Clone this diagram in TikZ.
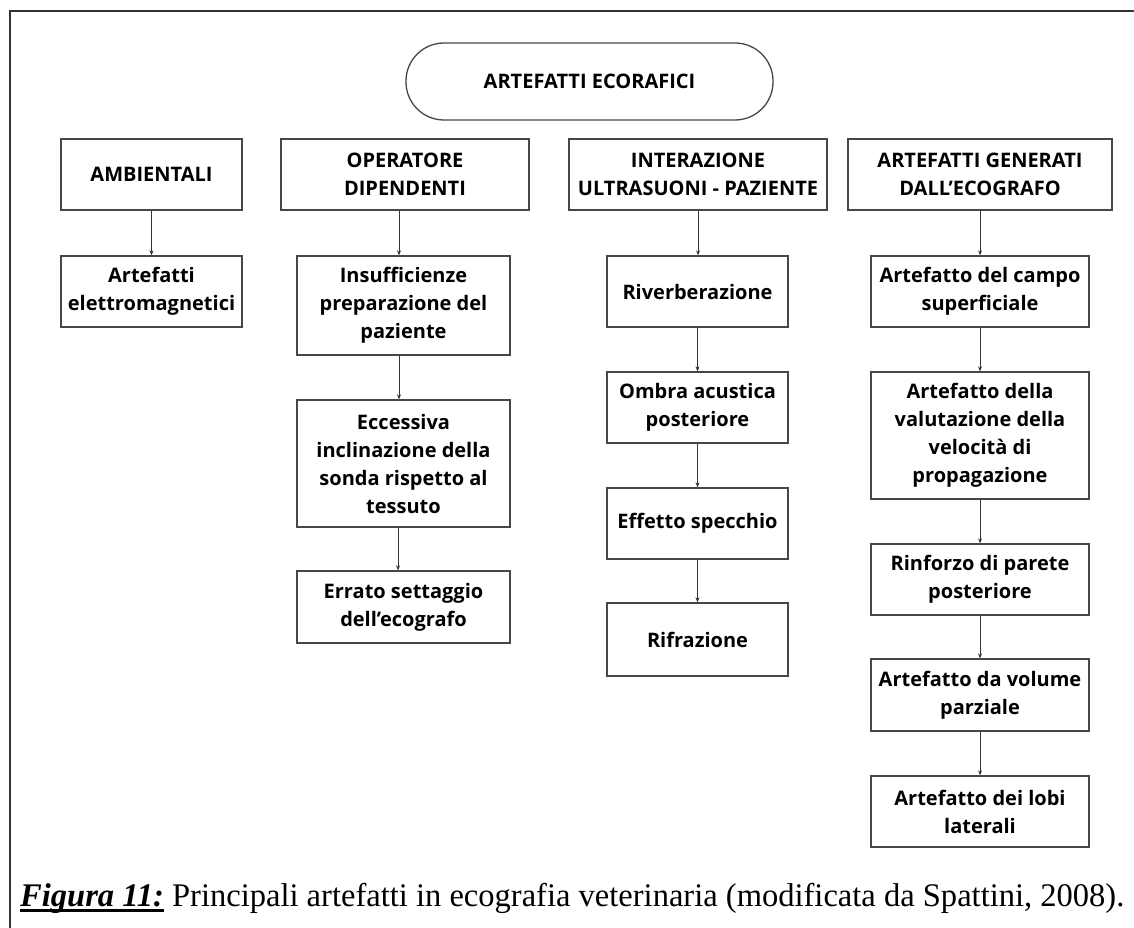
\documentclass[tikz,border=0pt]{standalone}
\usepackage{fontspec}
\usepackage{graphicx}
\setmainfont{Liberation Serif}
\newfontfamily\boxfont{Open Sans}
\usetikzlibrary{arrows.meta}
\newcommand\thickul[1]{\setbox0\hbox{#1}\rlap{\rule[-5.5pt]{\wd0}{2.6pt}}\box0\relax}
\tikzset{
  every picture/.style={x=1pt,y=-1pt},
  boxnode/.style={draw=black!72, line width=1.3pt, inner sep=0pt, align=center,
    font=\boxfont\bfseries\fontsize{20}{28}\selectfont, text=black},
  conn/.style={draw=black!80, line width=1pt, -{Stealth[length=5pt,width=4pt]}},
}
\begin{document}
\begin{tikzpicture}
\useasboundingbox (0,0) rectangle (1134,928);
\fill[white] (0,0) rectangle (1134,928);
\draw[black!80, line width=1.5pt] (10,1000) -- (10,11) -- (1200,11);

\node[boxnode, rounded corners=38pt, minimum width=367pt, minimum height=77pt] (root) at (589.5,81.5) {ARTEFATTI ECORAFICI};

\node[boxnode, minimum width=181pt, minimum height=71pt] (amb) at (151.5,174.5) {AMBIENTALI};
\node[boxnode, minimum width=248pt, minimum height=71pt] (op) at (405,174.5) {OPERATORE\\DIPENDENTI};
\node[boxnode, minimum width=258pt, minimum height=71pt] (int) at (698,174.5) {INTERAZIONE\\ULTRASUONI - PAZIENTE};
\node[boxnode, minimum width=264pt, minimum height=71pt] (gen) at (980,174.5) {ARTEFATTI GENERATI\\DALL’ECOGRAFO};

\node[boxnode, minimum width=181pt, minimum height=71pt] (elet) at (151.5,291.5) {Artefatti\\elettromagnetici};

\node[boxnode, minimum width=213pt, minimum height=99pt] (ins) at (403.5,305.5) {Insufficienze\\preparazione del\\paziente};
\node[boxnode, minimum width=213pt, minimum height=127pt] (ecc) at (403.5,463.5) {Eccessiva\\inclinazione della\\sonda rispetto al\\tessuto};
\node[boxnode, minimum width=213pt, minimum height=72pt] (err) at (403.5,607) {Errato settaggio\\dell’ecografo};

\node[boxnode, minimum width=181pt, minimum height=71pt] (riv) at (697.5,291.5) {Riverberazione};
\node[boxnode, minimum width=181pt, minimum height=71pt] (omb) at (697.5,407.5) {Ombra acustica\\posteriore};
\node[boxnode, minimum width=181pt, minimum height=71pt] (eff) at (697.5,523.5) {Effetto specchio};
\node[boxnode, minimum width=181pt, minimum height=73pt] (rif) at (697.5,639.5) {Rifrazione};

\node[boxnode, minimum width=218pt, minimum height=71pt] (campo) at (980,291.5) {Artefatto del campo\\superficiale};
\node[boxnode, minimum width=218pt, minimum height=127pt] (val) at (980,435.5) {Artefatto della\\valutazione della\\velocità di\\propagazione};
\node[boxnode, minimum width=218pt, minimum height=71pt] (rin) at (980,579.5) {Rinforzo di parete\\posteriore};
\node[boxnode, minimum width=218pt, minimum height=72pt] (vol) at (980,695) {Artefatto da volume\\parziale};
\node[boxnode, minimum width=218pt, minimum height=71pt] (lobi) at (980,811.5) {Artefatto dei lobi\\laterali};

\draw[conn] (amb.south) -- (elet.north);
\draw[conn] (op.south -| 399,0) -- (ins.north -| 399,0);
\draw[conn] (ins.south -| 399,0) -- (ecc.north -| 399,0);
\draw[conn] (ecc.south -| 398,0) -- (err.north -| 398,0);
\draw[conn] (int.south) -- (int.south |- riv.north);
\draw[conn] (riv.south) -- (omb.north);
\draw[conn] (omb.south) -- (eff.north);
\draw[conn] (eff.south) -- (rif.north);
\draw[conn] (gen.south) -- (campo.north);
\draw[conn] (campo.south) -- (val.north);
\draw[conn] (val.south) -- (rin.north);
\draw[conn] (rin.south) -- (vol.north);
\draw[conn] (vol.south) -- (lobi.north);

\node[anchor=base west, inner sep=0pt, font=\fontsize{33}{38}\selectfont] (cap) at (20,906)
  {\resizebox{1104pt}{\height}{\thickul{\textbf{\textit{Figura 11:}}} Principali artefatti in ecografia veterinaria (modificata da Spattini, 2008).}};
\end{tikzpicture}
\end{document}
